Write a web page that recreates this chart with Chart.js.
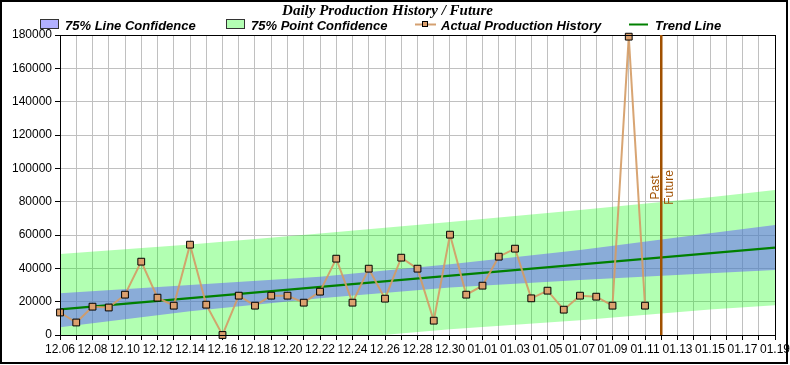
<!DOCTYPE html>
<html><head><meta charset="utf-8">
<script src="https://cdn.jsdelivr.net/npm/chart.js@4/dist/chart.umd.min.js"></script>
<style>html,body{margin:0;padding:0;background:#fff}#wrap{width:790px;height:365px;position:relative}</style>
</head><body><div id="wrap"><canvas id="c" width="790" height="365"></canvas></div>
<script>
const dates = ['12.06','12.07','12.08','12.09','12.10','12.11','12.12','12.13','12.14','12.15','12.16','12.17','12.18','12.19','12.20','12.21','12.22','12.23','12.24','12.25','12.26','12.27','12.28','12.29','12.30','12.31',
  '01.01','01.02','01.03','01.04','01.05','01.06','01.07','01.08','01.09','01.10','01.11','01.12','01.13','01.14','01.15','01.16','01.17','01.18','01.19'];
const actualDates = dates.slice(0, 37);
const actualValues = [13500,7500,17000,16500,24200,44000,22400,17600,54200,18200,0,23600,17600,23600,23600,19400,26000,45800,19400,39800,21800,46400,39800,8600,60200,24200,
  29600,47000,51800,22000,26600,15200,23600,23000,17600,179000,17600];
const trendDates = ['12.06','01.19'];
const trendValues = [15400, 52400];
const bandDates = ['12.06','12.14','12.22','12.30','01.07','01.15','01.19'];
const lineConfUpper = [25000,30000,35000,42500,51000,61000,66000];
const lineConfLower = [4600,14200,22000,28500,33000,37000,39000];
const pointConfUpper = [48600,54300,60900,67800,75000,82700,87000];
const pointConfLower = [-17800,-10100,-3200,3400,8800,15300,17800];
const dividerDate = '01.12';
const yTicks = {min: 0, max: 180000, step: 20000};

const pts = (xs, ys) => xs.map((x, i) => ({x: x, y: ys[i]}));
const tickFont = {family: 'Liberation Sans', size: 12};
const brown = '#a05000';

const decor = {
  id: 'decor',
  afterDatasetsDraw(chart) {
    const ctx = chart.ctx, ca = chart.chartArea, xs = chart.scales.x;
    ctx.save();
    ctx.strokeStyle = '#000'; ctx.lineWidth = 1;
    ctx.strokeRect(Math.round(ca.left) + 0.5, Math.round(ca.top) + 0.5, Math.round(ca.right - ca.left), Math.round(ca.bottom - ca.top));
    const px = xs.getPixelForValue(dates.indexOf(dividerDate));
    ctx.strokeStyle = brown; ctx.lineWidth = 2.5;
    ctx.beginPath(); ctx.moveTo(px, ca.top); ctx.lineTo(px, ca.bottom); ctx.stroke();
    ctx.fillStyle = brown; ctx.font = '12px "Liberation Sans"'; ctx.textAlign = 'center'; ctx.textBaseline = 'alphabetic';
    ctx.save(); ctx.translate(px - 2.5, 187.5); ctx.rotate(-Math.PI / 2); ctx.fillText('Past', 0, 0); ctx.restore();
    ctx.save(); ctx.translate(px + 11.5, 187.5); ctx.rotate(-Math.PI / 2); ctx.fillText('Future', 0, 0); ctx.restore();
    ctx.restore();
  },
  afterDraw(chart) {
    const ctx = chart.ctx;
    ctx.save();
    ctx.strokeStyle = '#000'; ctx.lineWidth = 2;
    ctx.strokeRect(1, 1, 786, 362);
    ctx.font = 'italic bold 13px "Liberation Sans"';
    ctx.textBaseline = 'alphabetic'; ctx.textAlign = 'left';
    const ty = 29.5, cy = 24.5;
    ctx.lineWidth = 1; ctx.strokeStyle = '#333';
    ctx.fillStyle = 'rgb(178,176,254)'; ctx.fillRect(40.5, 19.5, 18, 9); ctx.strokeRect(40.5, 19.5, 18, 9);
    ctx.fillStyle = '#000'; ctx.fillText('75% Line Confidence', 65, ty);
    ctx.fillStyle = 'rgb(179,255,179)'; ctx.fillRect(226.5, 19.5, 18, 9); ctx.strokeRect(226.5, 19.5, 18, 9);
    ctx.fillStyle = '#000'; ctx.fillText('75% Point Confidence', 251, ty);
    ctx.strokeStyle = '#d4a070'; ctx.lineWidth = 2;
    ctx.beginPath(); ctx.moveTo(415, cy); ctx.lineTo(436, cy); ctx.stroke();
    ctx.fillStyle = '#dca06e'; ctx.fillRect(422.5, 21.5, 5, 5);
    ctx.strokeStyle = '#000'; ctx.lineWidth = 1; ctx.strokeRect(422.5, 21.5, 5, 5);
    ctx.fillStyle = '#000'; ctx.fillText('Actual Production History', 441, ty);
    ctx.strokeStyle = '#008000'; ctx.lineWidth = 2;
    ctx.beginPath(); ctx.moveTo(629, cy); ctx.lineTo(648, cy); ctx.stroke();
    ctx.fillStyle = '#000'; ctx.fillText('Trend Line', 655, ty);
    ctx.restore();
  }
};

new Chart(document.getElementById('c'), {
  type: 'line',
  data: {
    labels: dates,
    datasets: [
      {label: 'Actual Production History', data: pts(actualDates, actualValues), borderColor: 'rgba(212,155,100,0.9)', borderWidth: 2,
       pointStyle: 'rect', pointRadius: 4.8, pointBackgroundColor: '#dca06e', pointBorderColor: '#000', pointBorderWidth: 1,
       tension: 0, clip: false, fill: false},
      {label: 'Trend Line', data: pts(trendDates, trendValues), borderColor: '#008000', borderWidth: 2.2, pointRadius: 0, fill: false, spanGaps: true},
      {label: '75% Line Confidence', data: pts(bandDates, lineConfUpper), borderWidth: 0, pointRadius: 0, fill: '+1', backgroundColor: 'rgba(97,89,253,0.5)', spanGaps: true},
      {label: 'lineLower', data: pts(bandDates, lineConfLower), borderWidth: 0, pointRadius: 0, fill: false, spanGaps: true},
      {label: '75% Point Confidence', data: pts(bandDates, pointConfUpper), borderWidth: 0, pointRadius: 0, fill: '+1', backgroundColor: 'rgba(0,255,0,0.3)', spanGaps: true},
      {label: 'pointLower', data: pts(bandDates, pointConfLower), borderWidth: 0, pointRadius: 0, fill: false, spanGaps: true}
    ]
  },
  options: {
    responsive: false, animation: false,
    layout: {padding: {left: 0, right: 15, top: 0, bottom: 0}},
    plugins: {
      legend: {display: false}, tooltip: {enabled: false},
      title: {display: true, text: 'Daily Production History / Future', color: '#000',
        font: {family: 'Liberation Serif', size: 15, style: 'italic', weight: 'bold'}, padding: {top: 2, bottom: 15}}
    },
    scales: {
      x: {type: 'category', offset: false,
        grid: {color: '#c0c0c0', tickColor: '#000', tickLength: 5},
        border: {color: '#000'},
        ticks: {autoSkip: false, maxRotation: 0, minRotation: 0, color: '#000', font: tickFont, padding: 2,
          callback: function (v, i) { return i % 2 === 0 ? this.getLabelForValue(v) : ''; }},
        afterFit: s => { s.height = 30; s.paddingRight = 0; s.paddingLeft = 0; }},
      y: {min: yTicks.min, max: yTicks.max,
        grid: {color: '#c0c0c0', tickColor: '#000', tickLength: 5},
        border: {color: '#000'},
        ticks: {stepSize: yTicks.step, color: '#000', font: tickFont, padding: 3, callback: v => String(v)},
        afterFit: s => { s.width = 60; s.paddingTop = 0; s.paddingBottom = 0; }}
    }
  },
  plugins: [decor]
});
</script></body></html>
